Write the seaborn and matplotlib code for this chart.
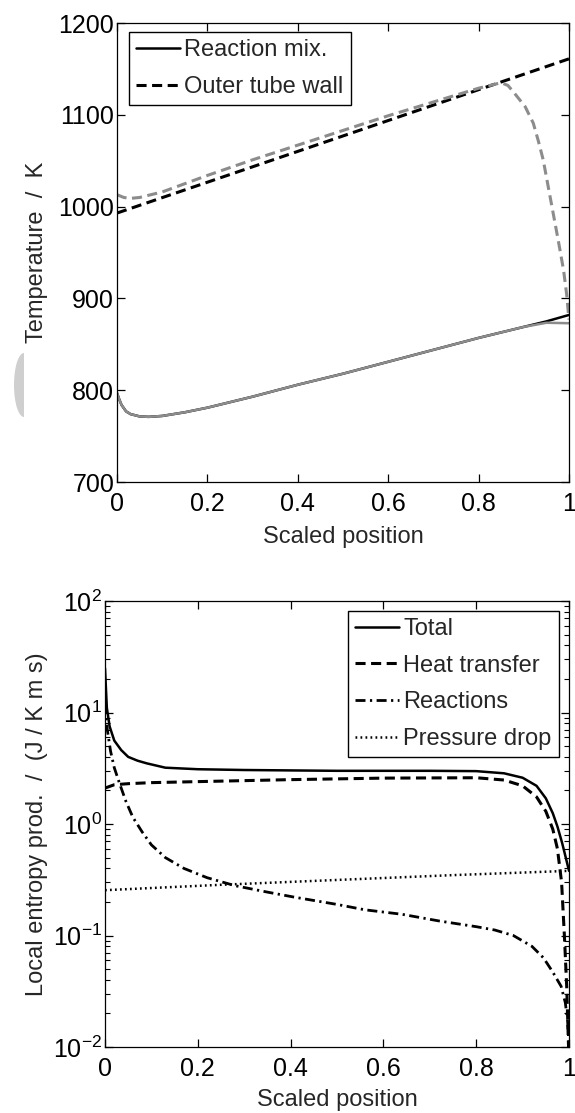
import matplotlib
matplotlib.use("Agg")
import matplotlib.pyplot as plt
import matplotlib.ticker as mticker
from matplotlib.patches import Ellipse, Rectangle
import seaborn as sns

# -------------------------
# Data
# -------------------------
# temperature panel
pos_mix = [0, 0.005, 0.01, 0.02, 0.03, 0.05, 0.07, 0.1, 0.15, 0.2, 0.3, 0.4,
           0.5, 0.6, 0.7, 0.8, 0.9, 0.95, 1.0]
mix_black = [797, 790, 784, 777, 774, 771.5, 771, 772, 776, 781, 793, 806,
             818, 831, 844, 857, 869, 875, 882]
mix_gray = [797, 790, 784, 777, 774, 771.5, 771, 772, 776, 781, 793, 806,
            818, 831, 844, 857, 869, 873.5, 873]

pos_wall = [0, 0.5, 1.0]
wall_black = [993, 1077, 1161]

pos_wall_gray = [0, 0.015, 0.03, 0.05, 0.1, 0.2, 0.3, 0.4, 0.5, 0.6, 0.7, 0.8,
                 0.85, 0.865, 0.877, 0.903, 0.921, 0.932, 0.943, 0.954, 0.965,
                 0.976, 0.988, 0.995, 1.0]
wall_gray = [1013, 1010, 1009, 1010, 1016, 1034, 1051, 1067, 1083, 1099, 1114,
             1129, 1135, 1132, 1125, 1109, 1091, 1072, 1051, 1022, 993, 964,
             931, 904, 877]

# entropy production panel
pos_total = [0, 0.004, 0.01, 0.02, 0.035, 0.05, 0.07, 0.09, 0.13, 0.2, 0.3,
             0.5, 0.7, 0.8, 0.86, 0.9, 0.93, 0.95, 0.965, 0.975, 0.985, 0.993, 1.0]
total = [25, 11, 7.5, 5.6, 4.6, 4.0, 3.7, 3.5, 3.2, 3.1, 3.05, 3.0, 3.0, 2.98,
         2.85, 2.6, 2.2, 1.7, 1.25, 0.95, 0.68, 0.5, 0.38]

pos_heat = [0, 0.02, 0.05, 0.1, 0.2, 0.4, 0.6, 0.8, 0.86, 0.9, 0.93, 0.95,
            0.965, 0.975, 0.984, 0.99, 0.995, 0.999]
heat = [2.1, 2.25, 2.3, 2.35, 2.4, 2.5, 2.58, 2.6, 2.48, 2.2, 1.75, 1.3, 0.9,
        0.6, 0.3, 0.1, 0.035, 0.01]

pos_react = [0, 0.005, 0.012, 0.02, 0.03, 0.045, 0.06, 0.08, 0.1, 0.13, 0.17,
             0.22, 0.28, 0.35, 0.41, 0.5, 0.56, 0.64, 0.72, 0.8, 0.84, 0.88,
             0.92, 0.945, 0.965, 0.983, 0.992, 0.997, 1.0]
react = [12, 7, 4.5, 3.2, 2.4, 1.6, 1.15, 0.85, 0.65, 0.5, 0.4, 0.33, 0.28,
         0.245, 0.22, 0.19, 0.17, 0.155, 0.135, 0.12, 0.112, 0.1, 0.08, 0.063,
         0.047, 0.035, 0.025, 0.017, 0.01]

pos_press = [0, 0.25, 0.5, 0.75, 1.0]
press = [0.255, 0.285, 0.315, 0.348, 0.38]

# -------------------------
# Style
# -------------------------
sns.set_style("ticks")
plt.rcParams["font.family"] = ["Liberation Sans", "DejaVu Sans"]
plt.rcParams["mathtext.default"] = "regular"
plt.rcParams["font.size"] = 17
plt.rcParams["axes.edgecolor"] = "black"
plt.rcParams["axes.linewidth"] = 0.9

GRAY = "#8c8c8c"
TICK_FS = 18
LABEL_FS = 17

fig = plt.figure(figsize=(5.75, 11.13), dpi=100)
ax1 = fig.add_axes([0.2035, 0.5669, 0.786, 0.4124])
ax2 = fig.add_axes([0.1826, 0.0593, 0.807, 0.4007])


def draw(ax, x, y, color, lw, dashes=None, label=None):
    sns.lineplot(x=x, y=y, ax=ax, color=color, linewidth=lw, label=label, legend=False)
    line = ax.lines[-1]
    if dashes is not None:
        line.set_dashes(dashes)
    return line


legend_kw = dict(borderaxespad=0, fancybox=False, framealpha=1, edgecolor="black",
                 handlelength=1.85, handletextpad=0.2, labelspacing=0.62,
                 borderpad=0.3, fontsize=LABEL_FS)

# -------------------------
# Temperature profiles
# -------------------------
h1 = draw(ax1, pos_mix, mix_black, "black", 1.8, label="Reaction mix.")
h2 = draw(ax1, pos_wall, wall_black, "black", 2.2, dashes=(3.3, 1.8), label="Outer tube wall")
draw(ax1, pos_mix, mix_gray, GRAY, 1.8)
draw(ax1, pos_wall_gray, wall_gray, GRAY, 2.2, dashes=(3.3, 1.8))

ax1.set_xlim(0, 1)
ax1.set_ylim(700, 1200)
ax1.set_xticks([0, 0.2, 0.4, 0.6, 0.8, 1.0])
ax1.set_yticks([700, 800, 900, 1000, 1100, 1200])
ax1.xaxis.set_major_formatter(mticker.FormatStrFormatter("%g"))
ax1.set_xlabel("Scaled position", fontsize=LABEL_FS)
ax1.set_ylabel("Temperature  /  K", fontsize=LABEL_FS)
ax1.yaxis.set_label_coords(-0.153, 0.5)
ax1.xaxis.set_label_coords(0.5, -0.095)
ax1.legend(handles=[h1, h2], loc="upper left", bbox_to_anchor=(0.0265, 0.98), **legend_kw)

# -------------------------
# Local entropy production
# -------------------------
e1 = draw(ax2, pos_total, total, "black", 1.8, label="Total")
e2 = draw(ax2, pos_heat, heat, "black", 2.2, dashes=(3.3, 1.8), label="Heat transfer")
e3 = draw(ax2, pos_react, react, "black", 2.0, dashes=(3.6, 1.6, 0.8, 1.6), label="Reactions")
e4 = draw(ax2, pos_press, press, "black", 1.8, dashes=(0.7, 1.3), label="Pressure drop")

ax2.set_yscale("log")
ax2.set_xlim(0, 1)
ax2.set_ylim(1e-2, 1e2)
ax2.set_xticks([0, 0.2, 0.4, 0.6, 0.8, 1.0])
ax2.xaxis.set_major_formatter(mticker.FormatStrFormatter("%g"))
ax2.yaxis.set_minor_locator(mticker.LogLocator(base=10, subs=range(2, 10)))
ax2.yaxis.set_minor_formatter(mticker.NullFormatter())
ax2.set_xlabel("Scaled position", fontsize=LABEL_FS)
ax2.set_ylabel("Local entropy prod.  /  (J / K m s)", fontsize=LABEL_FS)
ax2.yaxis.set_label_coords(-0.123, 0.5)
ax2.xaxis.set_label_coords(0.5, -0.095)
ax2.legend(handles=[e1, e2, e3, e4], loc="upper right", bbox_to_anchor=(0.978, 0.978),
           **legend_kw)

for ax in (ax1, ax2):
    ax.tick_params(which="both", direction="in", top=True, right=True,
                   colors="black", labelsize=TICK_FS)
    ax.tick_params(which="major", length=6, width=0.9)
    ax.tick_params(which="minor", length=3.5, width=0.8)
    ax.tick_params(axis="y", pad=2)
    ax.tick_params(axis="x", pad=7)
    for s in ax.spines.values():
        s.set_visible(True)
        s.set_color("black")

# faint gray half disc at the left margin of the scan
clip = Rectangle((0, 6.9), 0.24, 0.8, transform=fig.dpi_scale_trans, visible=False)
fig.add_artist(clip)
blob = Ellipse((0.24, 7.28), 0.2, 0.64, transform=fig.dpi_scale_trans,
               facecolor="#cfcfcf", edgecolor="none")
fig.add_artist(blob)
blob.set_clip_path(clip)

fig.savefig("out.png", dpi=100)
plt.close(fig)
